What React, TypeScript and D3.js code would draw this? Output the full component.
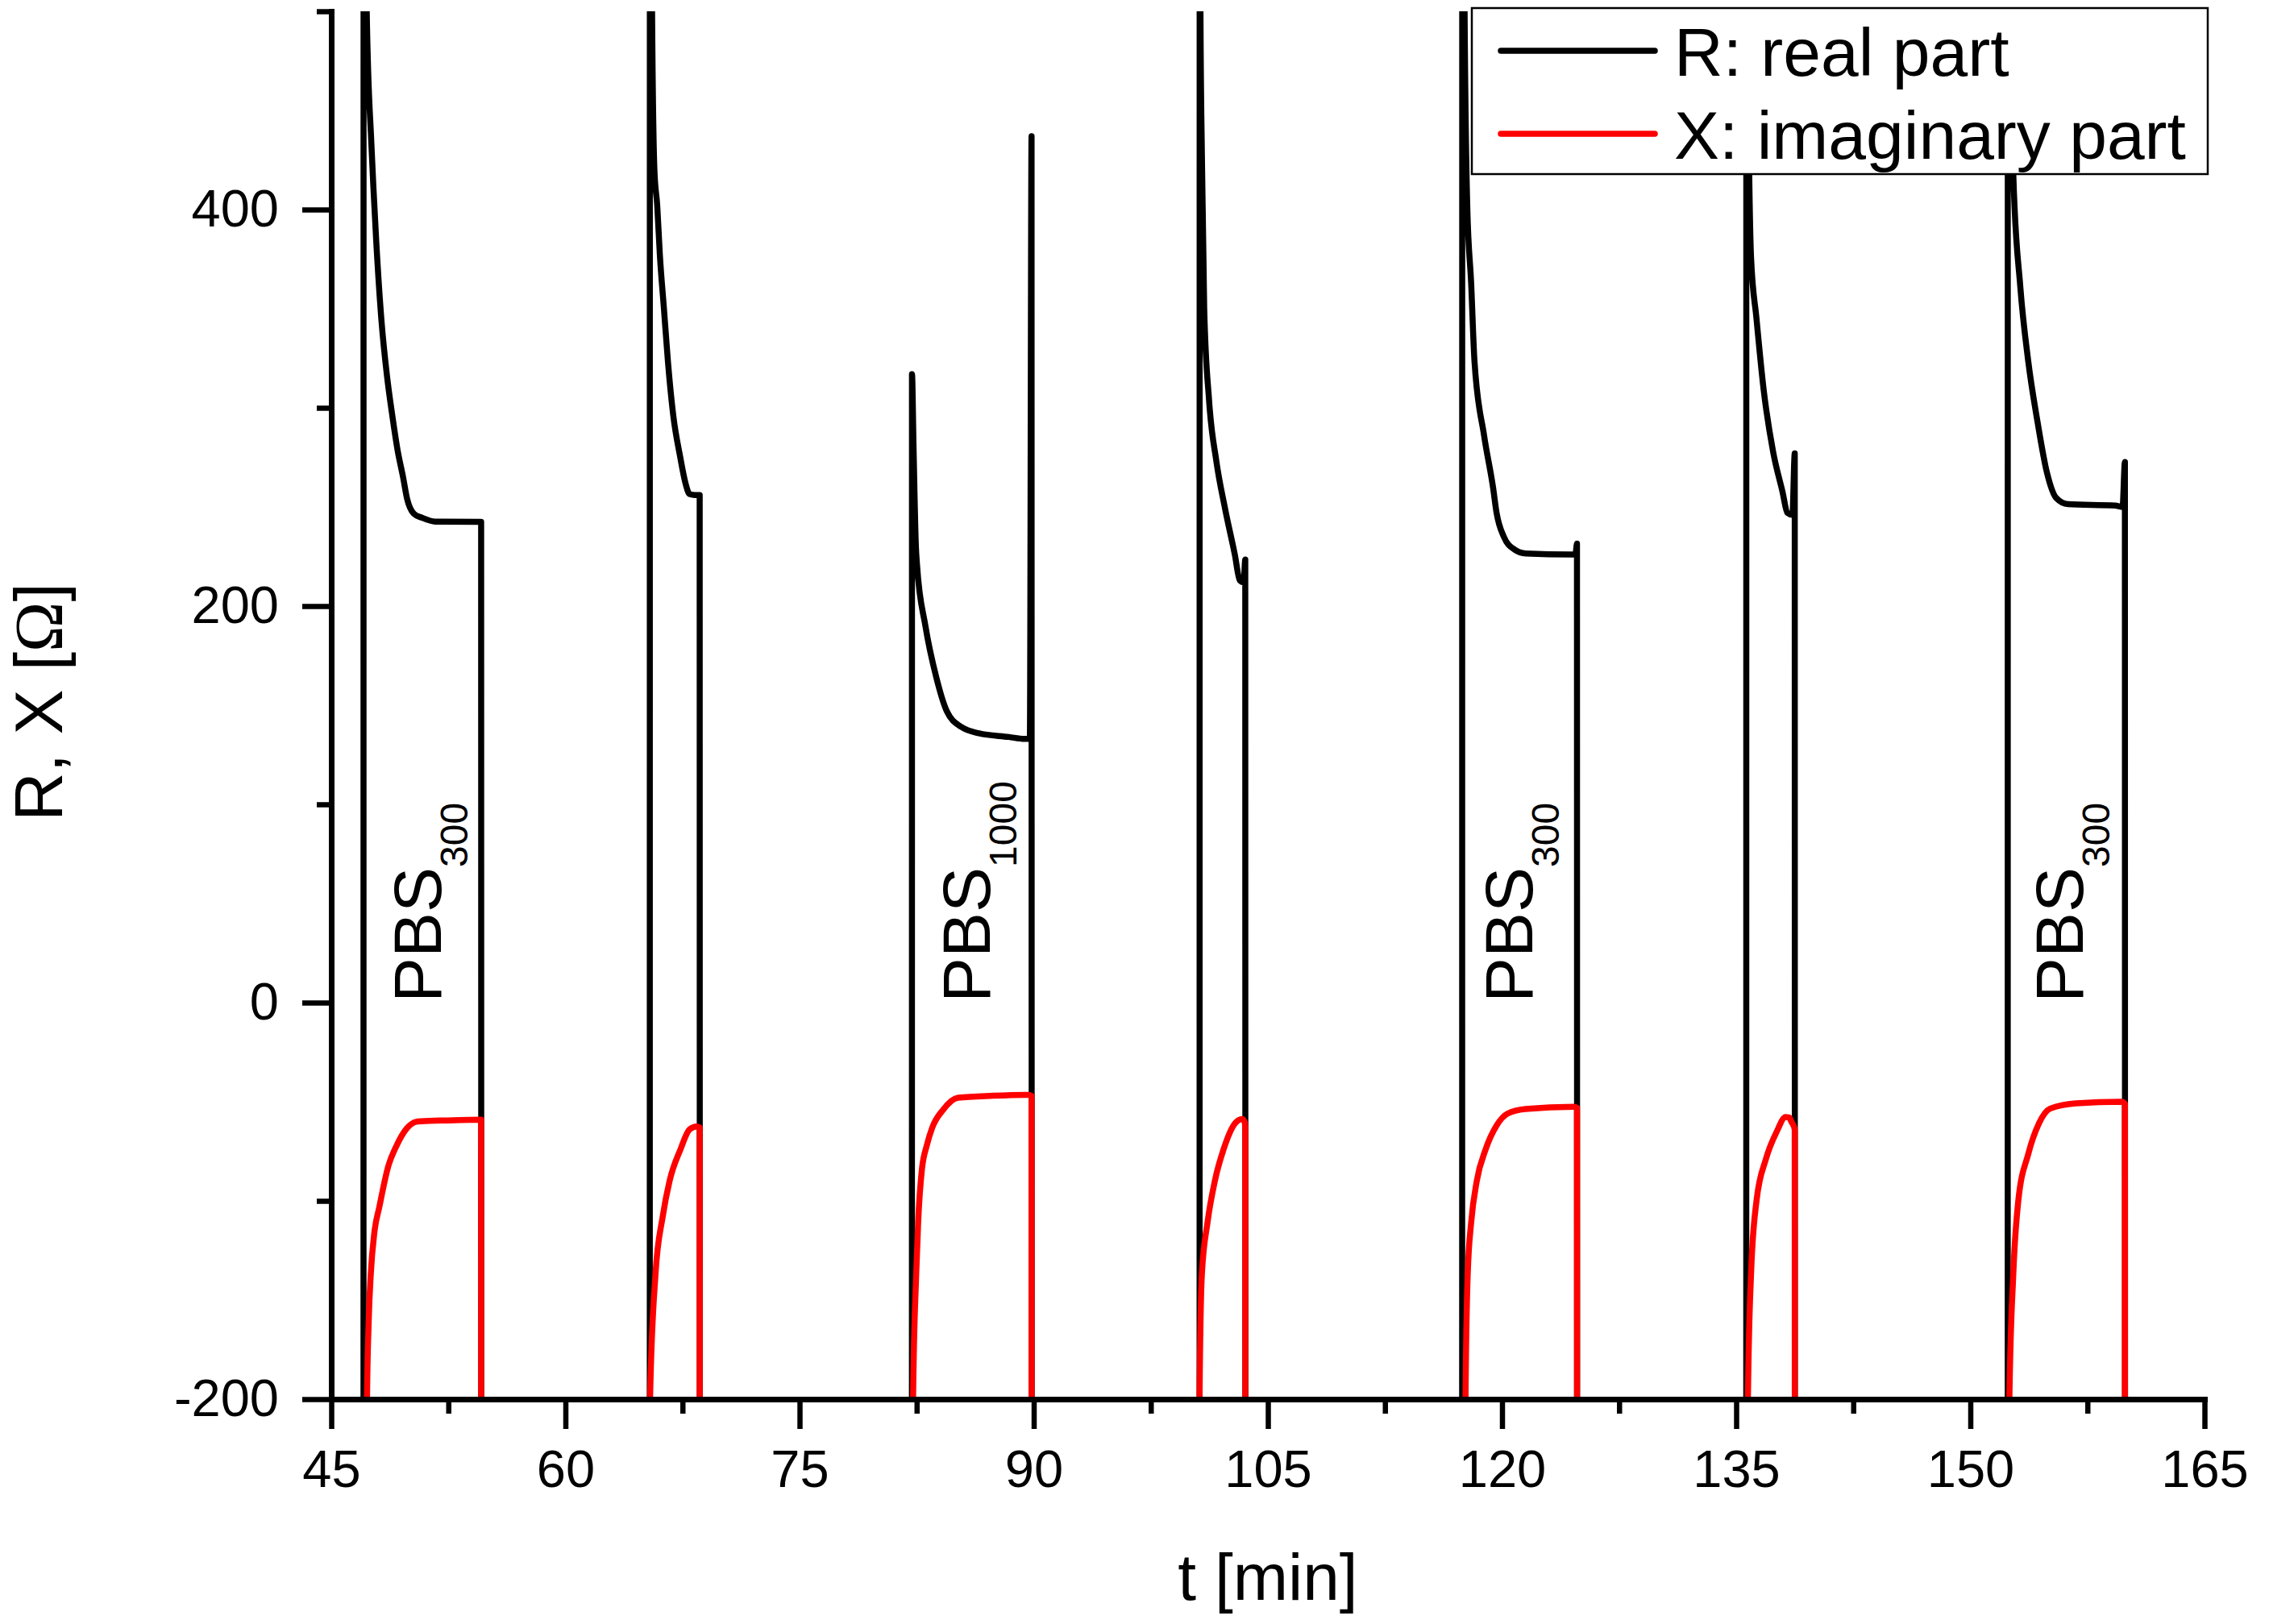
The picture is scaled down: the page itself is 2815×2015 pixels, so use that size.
import React, { useEffect, useRef } from 'react';
import * as d3 from 'd3';

type Pt = [number, number];

// off-scale readings between the injections (outside the plotted window)
const OFF_LOW = -1000;
const OFF_HIGH = 1000;

// R: real part, one array per measurement window [t (min), R (Ohm)]
const rSeg1: Pt[] = [[47.06, OFF_LOW], [47.07, OFF_HIGH], [47.2, 650], [47.27, 500], [47.57, 433], [47.7, 411], [47.88, 384], [48.22, 343.5], [48.57, 316], [48.91, 296], [49.25, 278.5], [49.6, 265], [49.86, 254], [50.29, 246.6], [50.8, 244.6], [51.67, 242.6], [54.6, 242.5], [54.62, OFF_LOW]];
const rSeg2: Pt[] = [[65.4, OFF_LOW], [65.41, OFF_HIGH], [65.5, 560], [65.55, 500], [65.7, 420], [65.88, 402], [66.05, 377], [66.31, 350], [66.57, 323], [66.91, 296], [67.34, 275.7], [67.69, 262], [67.95, 256.5], [68.3, 256], [68.6, 256], [68.62, OFF_LOW]];
const rSeg3: Pt[] = [[82.19, OFF_LOW], [82.2, 317], [82.3, 280], [82.45, 230], [82.52, 221], [83.06, 190], [83.76, 164], [84.43, 147], [85.37, 139], [86.5, 135.8], [88.4, 134], [89.4, 133], [89.75, 133], [89.86, 437], [89.88, OFF_LOW]];
const rSeg4: Pt[] = [[100.62, OFF_LOW], [100.63, OFF_HIGH], [100.66, 600], [100.68, 500], [100.77, 428], [100.92, 350], [101.23, 304], [101.7, 273], [102.26, 249], [102.88, 226], [103.2, 213], [103.45, 212], [103.55, 223.5], [103.57, OFF_LOW]];
const rSeg5: Pt[] = [[117.44, OFF_LOW], [117.45, OFF_HIGH], [117.55, 560], [117.6, 500], [117.77, 402], [118.02, 363], [118.23, 324], [118.85, 286], [119.42, 260], [119.65, 247], [120.11, 235], [120.8, 228.5], [121.52, 226.5], [124.43, 226], [124.7, 226], [124.8, 231.5], [124.82, OFF_LOW]];
const rSeg6: Pt[] = [[135.64, OFF_LOW], [135.65, OFF_HIGH], [135.7, 600], [135.72, 500], [135.8, 438], [135.95, 376], [136.3, 345], [136.76, 309], [137.36, 278], [137.97, 257.5], [138.28, 247], [138.6, 246], [138.75, 277], [138.77, OFF_LOW]];
const rSeg7: Pt[] = [[152.39, OFF_LOW], [152.4, OFF_HIGH], [152.55, 560], [152.62, 500], [152.75, 418], [153.2, 361], [153.7, 324], [154.3, 293], [154.9, 267.5], [155.5, 254.5], [156.25, 251.4], [159.27, 250.7], [159.75, 250], [159.9, 272.7], [159.92, OFF_LOW]];

// X: imaginary part [t (min), X (Ohm)]
const xSeg1: Pt[] = [[47.27, OFF_LOW], [47.29, -200], [47.4, -160], [47.53, -137], [47.76, -116], [48.08, -103], [48.67, -82], [49.13, -73], [49.83, -63.5], [50.53, -60], [52, -59.5], [54.6, -59], [54.62, OFF_LOW]];
const xSeg2: Pt[] = [[65.4, OFF_LOW], [65.42, -200], [65.77, -137], [66.23, -108], [66.67, -90], [67.37, -74], [67.95, -64], [68.4, -62.5], [68.6, -63], [68.62, OFF_LOW]];
const xSeg3: Pt[] = [[82.25, OFF_LOW], [82.27, -200], [82.47, -137], [82.6, -110], [82.83, -84.5], [83.15, -72], [83.5, -63], [84.2, -54], [85.15, -48], [87.4, -47], [89.65, -46.5], [89.86, -47], [89.88, OFF_LOW]];
const xSeg4: Pt[] = [[100.6, OFF_LOW], [100.62, -200], [100.77, -137], [101.13, -111], [101.6, -90], [102.16, -74], [102.88, -61], [103.35, -58.7], [103.5, -60], [103.55, -63], [103.57, OFF_LOW]];
const xSeg5: Pt[] = [[117.64, OFF_LOW], [117.66, -200], [117.8, -137], [118.02, -111], [118.38, -90], [118.95, -74], [119.65, -62], [120.35, -56], [121.5, -53.7], [124.6, -52.5], [124.8, -53], [124.82, OFF_LOW]];
const xSeg6: Pt[] = [[135.73, OFF_LOW], [135.75, -200], [135.95, -137], [136.3, -100], [136.9, -79], [137.6, -65], [138.16, -57.7], [138.4, -58], [138.53, -60], [138.75, -64], [138.77, OFF_LOW]];
const xSeg7: Pt[] = [[152.48, OFF_LOW], [152.5, -200], [152.75, -137], [153.07, -100], [153.7, -76.6], [154.4, -60.8], [155.1, -53.5], [156.75, -50.8], [159.7, -50], [159.9, -51], [159.92, OFF_LOW]];

const rSegments = [rSeg1, rSeg2, rSeg3, rSeg4, rSeg5, rSeg6, rSeg7];
const xSegments = [xSeg1, xSeg2, xSeg3, xSeg4, xSeg5, xSeg6, xSeg7];

const xMajorTicks = [45, 60, 75, 90, 105, 120, 135, 150, 165];
const xMinorTicks = [52.5, 67.5, 82.5, 97.5, 112.5, 127.5, 142.5, 157.5];
const yMajorTicks = [-200, 0, 200, 400];
const yMinorTicks = [-100, 100, 300, 500];

// rotated solution labels, placed at R = 0
const pbsLabels = [
  { t: 52.0, sub: '300' },
  { t: 87.17, sub: '1000' },
  { t: 121.95, sub: '300' },
  { t: 157.2, sub: '300' }
];

const legendItems = [
  { label: 'R: real part', color: '#000000' },
  { label: 'X: imaginary part', color: '#ff0000' }
];

const FONT = '"Liberation Sans", Arial, Helvetica, sans-serif';

const App: React.FC = () => {
  const svgRef = useRef<SVGSVGElement>(null);

  useEffect(() => {
    if (!svgRef.current) return;
    const W = 2815;
    const H = 2015;
    const margin = { top: 14, right: 80, bottom: 279, left: 411 };
    const width = W - margin.left - margin.right;
    const height = H - margin.top - margin.bottom;

    const svg = d3.select(svgRef.current);
    svg.selectAll('*').remove();

    svg.append('defs').append('clipPath').attr('id', 'plot-clip')
      .append('rect').attr('x', 0).attr('y', 0).attr('width', width).attr('height', height);

    const g = svg.append('g').attr('transform', `translate(${margin.left},${margin.top})`);

    const x = d3.scaleLinear().domain([45, 165]).range([0, width]);
    const y = d3.scaleLinear().domain([-200, 500]).range([height, 0]);

    const line = d3.line<Pt>().x(d => x(d[0])).y(d => y(d[1])).curve(d3.curveMonotoneX);

    // data
    const plot = g.append('g').attr('clip-path', 'url(#plot-clip)');
    rSegments.forEach(seg => {
      plot.append('path').attr('d', line(seg)).attr('fill', 'none').attr('stroke', '#000')
        .attr('stroke-width', 7.5).attr('stroke-linejoin', 'round');
    });
    xSegments.forEach(seg => {
      plot.append('path').attr('d', line(seg)).attr('fill', 'none').attr('stroke', '#ff0000')
        .attr('stroke-width', 7.5).attr('stroke-linejoin', 'round');
    });

    // PBS labels
    pbsLabels.forEach(d => {
      const t = g.append('text')
        .attr('transform', `translate(${x(d.t)},${y(0)}) rotate(-90)`)
        .attr('font-family', FONT).attr('font-size', 84).attr('fill', '#000');
      t.append('tspan').text('PBS');
      t.append('tspan').attr('font-size', 48).attr('dy', 33).text(d.sub);
    });

    const styleAxis = (sel: any) => {
      sel.attr('font-family', FONT).attr('font-size', 65);
      sel.selectAll('.tick line').attr('stroke-width', 6.5);
      sel.select('.domain').attr('stroke-width', 7).attr('stroke-linecap', 'square');
      sel.selectAll('.tick text').attr('fill', '#000');
    };
    const plain = (d: d3.NumberValue) => String(d);

    // Y axis
    const yMinorG = g.append('g').call(d3.axisLeft(y).tickValues(yMinorTicks).tickSize(18).tickSizeOuter(0).tickFormat(() => ''));
    styleAxis(yMinorG);
    const yMajorG = g.append('g').call(d3.axisLeft(y).tickValues(yMajorTicks).tickSize(36).tickSizeOuter(0).tickPadding(29).tickFormat(plain));
    styleAxis(yMajorG);

    // X axis
    const xMinorG = g.append('g').attr('transform', `translate(0,${height})`)
      .call(d3.axisBottom(x).tickValues(xMinorTicks).tickSize(18).tickSizeOuter(0).tickFormat(() => ''));
    styleAxis(xMinorG);
    const xMajorG = g.append('g').attr('transform', `translate(0,${height})`)
      .call(d3.axisBottom(x).tickValues(xMajorTicks).tickSize(37).tickSizeOuter(0).tickPadding(26).tickFormat(plain));
    styleAxis(xMajorG);

    // axis titles
    svg.append('text').attr('x', margin.left + width / 2).attr('y', 1985)
      .attr('text-anchor', 'middle').attr('font-family', FONT).attr('font-size', 82).text('t [min]');

    const yt = svg.append('text').attr('transform', 'translate(77,871) rotate(-90)')
      .attr('text-anchor', 'middle').attr('font-family', FONT).attr('font-size', 84);
    yt.append('tspan').text('R, X [');
    yt.append('tspan').attr('font-family', '"Liberation Serif", "DejaVu Serif", serif').text('\u03A9');
    yt.append('tspan').text(']');

    // legend
    const lg = svg.append('g');
    lg.append('rect').attr('x', 1826).attr('y', 10).attr('width', 913).attr('height', 206)
      .attr('fill', '#fff').attr('stroke', '#000').attr('stroke-width', 2.5);
    legendItems.forEach((d, i) => {
      const cy = 63 + i * 103;
      lg.append('line').attr('x1', 1862).attr('x2', 2053).attr('y1', cy).attr('y2', cy)
        .attr('stroke', d.color).attr('stroke-width', 7.5).attr('stroke-linecap', 'round');
      lg.append('text').attr('x', 2077).attr('y', cy + 31).attr('font-family', FONT)
        .attr('font-size', 84).attr('fill', '#000').text(d.label);
    });
  }, []);

  return (
    <svg
      ref={svgRef}
      width={2815}
      height={2015}
      style={{ position: 'absolute', left: 0, top: 0, display: 'block', background: '#fff' }}
    />
  );
};

export default App;
